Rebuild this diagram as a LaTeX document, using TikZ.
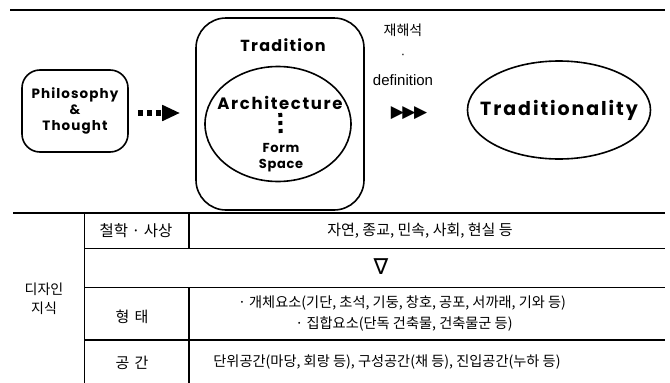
\documentclass[tikz,border=0pt]{standalone}
\usepackage{fontspec}
\usetikzlibrary{shapes.geometric,arrows.meta}
\newfontfamily\eng{Poppins}[LetterSpace=10]
\newfontfamily\engn{Poppins}[LetterSpace=8]
\newfontfamily\engs{Poppins}[LetterSpace=5]
\newfontfamily\arial{Liberation Sans}
\newfontfamily\kor{Noto Sans CJK KR}
\newfontfamily\dvs{DejaVu Sans}
\begin{document}
\begin{tikzpicture}[x=1pt,y=-1pt,
  rbox/.style={draw,line width=1.6pt,rounded corners=18pt},
  oval/.style={draw,line width=1.6pt,ellipse,inner sep=0pt},
  etxt/.style={inner sep=0pt},
  ktxt/.style={font=\kor\fontsize{14.2}{17}\selectfont,inner sep=0pt},
  thin/.style={line width=0.9pt},
  thick/.style={line width=1.8pt}]
\useasboundingbox (0,0) rectangle (670,383);
% top rule
\coordinate (tl) at (10,10);
\coordinate (tr) at (665,10);
\draw[line width=1.2pt] (tl) -- (tr);
% nodes
\node[rbox,minimum width=106pt,minimum height=82pt,align=center,font=\engn\bfseries\fontsize{13.5}{16}\selectfont] (phil) at (75,111) {Philosophy\\\&\\Thought};
\node[rbox,rounded corners=30pt,minimum width=168pt,minimum height=192pt] (trad) at (280,114) {};
\node[etxt,font=\engn\bfseries\fontsize{16}{18}\selectfont] (tradl) at (283,45) {Tradition};
\node[oval,minimum width=146pt,minimum height=115pt] (archo) at (278,124) {};
\node[etxt,font=\eng\bfseries\fontsize{16.5}{18}\selectfont] (arch) at (280,103) {Architecture};
\node[etxt,font=\engs\bfseries\fontsize{13}{15}\selectfont] (form) at (281,148) {Form};
\node[etxt,font=\engs\bfseries\fontsize{13}{15}\selectfont] (space) at (281,166) {Space};
\draw[line width=4pt,dash pattern=on 4pt off 4pt,shorten <=10pt,shorten >=15pt] (arch.center) -- (form.center);
\node[ktxt,font=\kor\fontsize{14}{16}\selectfont] (reint) at (403,30) {재해석};
\node[inner sep=0pt,font=\arial\fontsize{13}{14}\selectfont] (mdot) at (403,56) {·};
\node[inner sep=0pt,font=\arial\fontsize{15}{17}\selectfont] (defn) at (403,80) {definition};
\node[inner sep=0pt,font=\dvs\fontsize{17}{19}\selectfont] (tris) at (409,113) {▶\kern-1.5pt▶\kern-1.5pt▶};
\node[oval,minimum width=183pt,minimum height=98pt] (tly) at (559,110) {};
\node[etxt,font=\eng\bfseries\fontsize{19}{21}\selectfont] (tlyt) at (559,110) {Traditionality};
% dotted arrow
\draw[line width=6pt,dash pattern=on 5pt off 4pt,shorten <=9pt,shorten >=15pt,
  -{Triangle[length=18pt,width=15pt]}] (phil.east |- 0,113) -- (trad.west |- 0,113);
% table
\coordinate (t1) at (13,213);
\coordinate (t2) at (665,213);
\draw[line width=1.8pt] (t1) -- (t2);
\draw[thin] (84,213) -- (84,383);
\draw[thick] (189,213) -- (189,248);
\draw[thick] (189,287) -- (189,383);
\draw[thin] (84,248) -- (665,248);
\draw[thin] (84,287) -- (665,287);
\draw[line width=1.1pt] (84,340) -- (665,340);
\node[ktxt,align=center,font=\kor\fontsize{14}{19}\selectfont] (dk) at (44,299) {디자인\\지식};
\node[ktxt,font=\kor\fontsize{15.5}{17}\selectfont] (c1) at (136,231) {철학 · 사상};
\node[ktxt,font=\kor\fontsize{15}{17}\selectfont] (v1) at (420,231) {자연, 종교, 민속, 사회, 현실 등};
\node[inner sep=0pt,font=\dvs\fontsize{22}{24}\selectfont] (nab) at (381,267) {∇};
\node[ktxt,font=\kor\fontsize{15}{17}\selectfont] (c3) at (132,317) {형\hspace{0.35em}태};
\node[ktxt] (v3a) at (402,303) {· 개체요소(기단, 초석, 기둥, 창호, 공포, 서까래, 기와 등)};
\node[ktxt] (v3b) at (404,324) {· 집합요소(단독 건축물, 건축물군 등)};
\node[ktxt,font=\kor\fontsize{15}{17}\selectfont] (c4) at (132,363) {공\hspace{0.35em}간};
\node[ktxt] (v4) at (387,362) {단위공간(마당, 회랑 등), 구성공간(채 등), 진입공간(누하 등)};
\end{tikzpicture}
\end{document}
